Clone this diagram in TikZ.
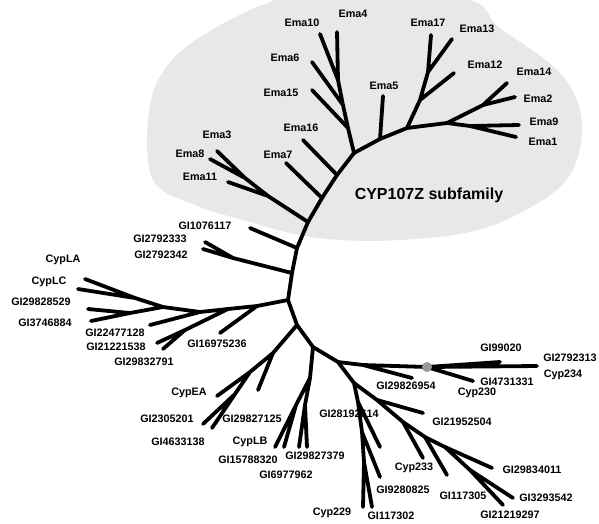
\documentclass[tikz,border=0pt]{standalone}
\usepackage{fontspec}
\setmainfont{Liberation Sans}
\begin{document}
\begin{tikzpicture}[x=1pt,y=-1pt,
    br/.style={line width=3.8pt,line cap=round,line join=round},
    lab/.style={font=\fontsize{10.8}{12}\selectfont\bfseries,inner sep=0pt}]
    \useasboundingbox (0,0) rectangle (599,523);

    % shaded subfamily area
    \fill[black!9] plot[smooth cycle,tension=0.6] coordinates {
        (150,105) (172,60) (215,28) (265,4) (300,-2) (460,-2) (500,28)
        (562,75) (582,125) (568,178) (522,212) (470,232) (400,240)
        (340,240) (295,234) (250,222) (195,205) (152,178)};
    \node[font=\fontsize{16}{18}\selectfont\bfseries,inner sep=0pt] (sub) at (429,195) {CYP107Z subfamily};

    % backbone
    \coordinate (bA) at (354,153);
    \coordinate (bB) at (337,175);
    \coordinate (bC) at (322,198);
    \coordinate (bD) at (308,222);
    \coordinate (bE) at (297,248);
    \coordinate (bF) at (292,273);
    \coordinate (bG) at (288,300);
    \coordinate (bH) at (297,325);
    \coordinate (bI) at (313,347);
    \coordinate (bJ) at (338,362);
    \coordinate (bK) at (354,383);
    \coordinate (bL) at (377,400);
    \coordinate (bM) at (403,422);
    \coordinate (bN) at (425,437);
    \coordinate (bO) at (445,447);
    \coordinate (bP) at (470,470);
    \draw[br] (bA) -- (bB) -- (bC) -- (bD) -- (bE) -- (bF) -- (bG) -- (bH)
        -- (bI) -- (bJ) -- (bK) -- (bL) -- (bM) -- (bN) -- (bO) -- (bP);

    % Ema clade, upper left part
    \coordinate (u1) at (348,128);
    \coordinate (u2) at (343,105);
    \coordinate (u3) at (338,80);
    \coordinate (tEma10) at (320,34);
    \coordinate (tEma4) at (337,32);
    \coordinate (tEma6) at (312,62);
    \coordinate (tEma15) at (312,90);
    \coordinate (tEma16) at (303,140);
    \coordinate (tEma7) at (286,163);
    \draw[br] (bA) -- (u1) -- (u2) -- (u3) -- (tEma10) (u3) -- (tEma4)
        (u2) -- (tEma6) (u1) -- (tEma15) (bB) -- (tEma16) (bC) -- (tEma7);

    % Ema3, Ema8, Ema11
    \coordinate (h1) at (268,196);
    \coordinate (h2) at (245,178);
    \coordinate (tEma3) at (217,151);
    \coordinate (tEma8) at (210,159);
    \coordinate (tEma11) at (228,182);
    \draw[br] (bD) -- (h1) -- (h2) -- (tEma3) (h2) -- (tEma8) (h1) -- (tEma11);

    % Ema clade, right part
    \coordinate (r1) at (380,139);
    \coordinate (r2) at (407,128);
    \coordinate (r3) at (420,100);
    \coordinate (r4) at (428,72);
    \coordinate (r5) at (447,123);
    \coordinate (r6) at (483,105);
    \coordinate (r7) at (470,126);
    \coordinate (tEma5) at (383,96);
    \coordinate (tEma17) at (431,35);
    \coordinate (tEma13) at (452,39);
    \coordinate (tEma12) at (454,73);
    \coordinate (tEma14) at (507,83);
    \coordinate (tEma2) at (515,97);
    \coordinate (tEma9) at (519,125);
    \coordinate (tEma1) at (516,137);
    \draw[br] (bA) -- (r1) -- (r2) -- (r3) -- (r4) -- (tEma17) (r4) -- (tEma13)
        (r3) -- (tEma12) (r1) -- (tEma5)
        (r2) -- (r5) -- (r6) -- (tEma14) (r6) -- (tEma2)
        (r5) -- (r7) -- (tEma9) (r7) -- (tEma1);

    % Ema labels
    \node[lab] (lEma10) at (302,23) {Ema10};
    \node[lab] (lEma4) at (353,14) {Ema4};
    \node[lab] (lEma6) at (285,58) {Ema6};
    \node[lab] (lEma15) at (281,93) {Ema15};
    \node[lab] (lEma16) at (301,128) {Ema16};
    \node[lab] (lEma3) at (217,135) {Ema3};
    \node[lab] (lEma8) at (190,154) {Ema8};
    \node[lab] (lEma11) at (200,177) {Ema11};
    \node[lab] (lEma7) at (278,155) {Ema7};
    \node[lab] (lEma5) at (384,86) {Ema5};
    \node[lab] (lEma17) at (428,23) {Ema17};
    \node[lab] (lEma13) at (477,29) {Ema13};
    \node[lab] (lEma12) at (485,65) {Ema12};
    \node[lab] (lEma14) at (534,72) {Ema14};
    \node[lab] (lEma2) at (538,99) {Ema2};
    \node[lab] (lEma9) at (544,122) {Ema9};
    \node[lab] (lEma1) at (543,142) {Ema1};

    % left branches
    \coordinate (j1) at (233,258);
    \coordinate (tGI1076117) at (250,228);
    \coordinate (tGI2792333) at (205,242);
    \coordinate (tGI2792342) at (203,249);
    \draw[br] (bE) -- (tGI1076117) (bF) -- (j1) -- (tGI2792333) (j1) -- (tGI2792342);
    \node[lab] (lGI1076117) at (205,226) {GI1076117};
    \node[lab] (lGI2792333) at (160,239) {GI2792333};
    \node[lab] (lGI2792342) at (161,255) {GI2792342};

    % CypL clade
    \coordinate (l1) at (257,306);
    \coordinate (l2) at (228,309);
    \coordinate (l3) at (200,312);
    \coordinate (l4) at (163,307);
    \coordinate (l5) at (185,330);
    \coordinate (l6) at (135,298);
    \coordinate (l7) at (130,313);
    \coordinate (tCypLA) at (85,279);
    \coordinate (tCypLC) at (78,289);
    \coordinate (tGI29828529) at (88,309);
    \coordinate (tGI3746884) at (91,321);
    \coordinate (tGI22477128) at (150,325);
    \coordinate (tGI21221538) at (157,343);
    \coordinate (tGI29832791) at (163,349);
    \coordinate (tGI16975236) at (220,333);
    \draw[br] (bG) -- (l1) -- (l2) -- (l3) -- (l4) -- (l6) -- (tCypLA) (l6) -- (tCypLC)
        (l4) -- (l7) -- (tGI29828529) (l7) -- (tGI3746884)
        (l3) -- (tGI22477128) (l2) -- (l5) -- (tGI21221538) (l5) -- (tGI29832791)
        (l1) -- (tGI16975236);
    \node[lab] (lCypLA) at (63,260) {CypLA};
    \node[lab] (lCypLC) at (49,282) {CypLC};
    \node[lab] (lGI29828529) at (41,302) {GI29828529};
    \node[lab] (lGI3746884) at (45,323) {GI3746884};
    \node[lab] (lGI22477128) at (115,333) {GI22477128};
    \node[lab] (lGI21221538) at (116,347) {GI21221538};
    \node[lab] (lGI29832791) at (144,362) {GI29832791};
    \node[lab] (lGI16975236) at (217,344) {GI16975236};

    % CypEA clade
    \coordinate (p1) at (273,353);
    \coordinate (p2) at (250,372);
    \coordinate (p3) at (235,394);
    \coordinate (tCypEA) at (217,396);
    \coordinate (tGI2305201) at (203,424);
    \coordinate (tGI4633138) at (212,428);
    \coordinate (tGI29827125) at (258,390);
    \draw[br] (bH) -- (p1) -- (p2) -- (p3) -- (tGI2305201) (p3) -- (tGI4633138)
        (p2) -- (tCypEA) (p1) -- (tGI29827125);
    \node[lab] (lCypEA) at (189,393) {CypEA};
    \node[lab] (lGI2305201) at (167,419) {GI2305201};
    \node[lab] (lGI4633138) at (178,442) {GI4633138};
    \node[lab] (lGI29827125) at (252,419) {GI29827125};

    % CypLB clade
    \coordinate (q1) at (310,378);
    \coordinate (q2) at (296,405);
    \coordinate (q3) at (305,405);
    \coordinate (tCypLB) at (275,447);
    \coordinate (tGI15788320) at (284,447);
    \coordinate (tGI6977962) at (299,447);
    \coordinate (tGI29827379) at (307,447);
    \draw[br] (bI) -- (q1) -- (q2) -- (tCypLB) (q2) -- (tGI15788320)
        (q1) -- (q3) -- (tGI6977962) (q3) -- (tGI29827379);
    \node[lab] (lCypLB) at (250,442) {CypLB};
    \node[lab] (lGI15788320) at (248,460) {GI15788320};
    \node[lab] (lGI29827379) at (315,456) {GI29827379};
    \node[lab] (lGI6977962) at (286,475) {GI6977962};

    % long branch to the right
    \coordinate (s1) at (363,365);
    \coordinate (s2) at (427,367);
    \coordinate (tGI29826954) at (412,378);
    \coordinate (tGI4731331) at (473,381);
    \coordinate (tGI99020) at (500,362);
    \coordinate (tGI2792313) at (537,366);
    \draw[br] (bJ) -- (s1) -- (s2) -- (tGI2792313) (s2) -- (tGI99020)
        (s2) -- (tGI4731331) (s1) -- (tGI29826954);
    \node[circle,fill=black!40,minimum size=10pt,inner sep=0pt] (dot) at (s2) {};
    \node[lab] (lGI99020) at (501,348) {GI99020};
    \node[lab] (lGI2792313) at (570,358) {GI2792313};
    \node[lab] (lCyp234) at (563,375) {Cyp234};
    \node[lab] (lGI4731331) at (507,382) {GI4731331};
    \node[lab] (lCyp230) at (477,393) {Cyp230};
    \node[lab] (lGI29826954) at (406,386) {GI29826954};

    % lower right clade
    \coordinate (c1) at (358,402);
    \coordinate (c2) at (362,432);
    \coordinate (c3) at (364,462);
    \coordinate (tGI28192614) at (380,447);
    \coordinate (tGI9280825) at (380,477);
    \coordinate (tCyp229) at (363,507);
    \coordinate (tGI117302) at (372,507);
    \coordinate (tGI21952504) at (423,413);
    \coordinate (tCyp233) at (423,458);
    \coordinate (tGI117305) at (447,475);
    \coordinate (tGI29834011) at (492,468);
    \coordinate (tGI3293542) at (513,498);
    \coordinate (tGI21219297) at (503,505);
    \draw[br] (bK) -- (c1) -- (c2) -- (c3) -- (tCyp229) (c3) -- (tGI117302)
        (c1) -- (tGI28192614) (c2) -- (tGI9280825)
        (bL) -- (tGI21952504) (bM) -- (tCyp233) (bN) -- (tGI117305)
        (bO) -- (tGI29834011) (bP) -- (tGI3293542) (bP) -- (tGI21219297);
    \node[lab] (lGI28192614) at (349,414) {GI28192614};
    \node[lab] (lGI21952504) at (462,422) {GI21952504};
    \node[lab] (lCyp233) at (414,468) {Cyp233};
    \node[lab] (lGI29834011) at (532,470) {GI29834011};
    \node[lab] (lGI9280825) at (403,490) {GI9280825};
    \node[lab] (lGI117305) at (463,496) {GI117305};
    \node[lab] (lGI3293542) at (546,498) {GI3293542};
    \node[lab] (lCyp229) at (332,513) {Cyp229};
    \node[lab] (lGI117302) at (391,516) {GI117302};
    \node[lab] (lGI21219297) at (510,515) {GI21219297};
\end{tikzpicture}
\end{document}
